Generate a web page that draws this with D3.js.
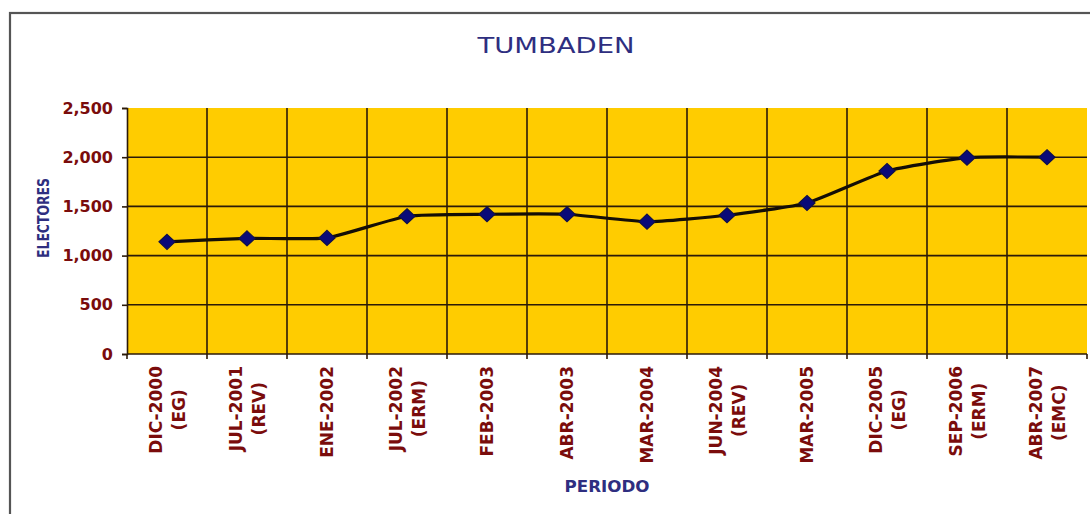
<!DOCTYPE html>
<html>
<head>
<meta charset="utf-8">
<script src="https://cdn.jsdelivr.net/npm/d3@7"></script>
<style>
  html, body { margin: 0; padding: 0; background: #ffffff; }
  svg { display: block; }
</style>
</head>
<body>
<script>
// ---- data ----
const periods = ["DIC-2000","JUL-2001","ENE-2002","JUL-2002","FEB-2003","ABR-2003","MAR-2004","JUN-2004","MAR-2005","DIC-2005","SEP-2006","ABR-2007"];
const processTags = ["(EG)","(REV)","","(ERM)","","","","(REV)","","(EG)","(ERM)","(EMC)"];
const electores = [1140, 1175, 1180, 1400, 1420, 1420, 1345, 1410, 1535, 1860, 1995, 2000];
const yTicks = [0, 500, 1000, 1500, 2000, 2500];
const chartTitle = "TUMBADEN";
const yTitle = "ELECTORES";
const xTitle = "PERIODO";

// ---- layout ----
const W = 1090, H = 514;
const plot = { left: 127, right: 1087, top: 108, bottom: 354 };
const tickRed = "#7a0c0c";
const navy = "#2e2e80";

const svg = d3.select("body").append("svg").attr("width", W).attr("height", H);

// outer chart frame
svg.append("rect").attr("x", 10).attr("y", 13).attr("width", W + 20).attr("height", H + 20)
  .attr("fill", "#ffffff").attr("stroke", "#555555").attr("stroke-width", 2.2);

const x = d3.scaleBand().domain(periods).range([plot.left, plot.right]).padding(0);
const xEdge = d3.scaleLinear().domain([0, periods.length]).range([plot.left, plot.right]);
const y = d3.scaleLinear().domain([0, 2500]).range([plot.bottom, plot.top]);

// plot background
svg.append("rect").attr("x", plot.left).attr("y", plot.top)
  .attr("width", plot.right - plot.left).attr("height", plot.bottom - plot.top)
  .attr("fill", "#ffcc00");

// horizontal gridlines
svg.append("g").selectAll("line").data(yTicks.filter(d => d > 0 && d < 2500)).join("line")
  .attr("x1", plot.left).attr("x2", plot.right)
  .attr("y1", d => y(d)).attr("y2", d => y(d))
  .attr("stroke", "#2b1a08").attr("stroke-width", 1.6);

// vertical gridlines at category boundaries
svg.append("g").selectAll("line").data(d3.range(1, periods.length)).join("line")
  .attr("x1", d => xEdge(d)).attr("x2", d => xEdge(d))
  .attr("y1", plot.top).attr("y2", plot.bottom)
  .attr("stroke", "#2b1a08").attr("stroke-width", 1.6);

// y axis
const yAxis = svg.append("g").attr("transform", `translate(${plot.left},0)`)
  .call(d3.axisLeft(y).tickValues(yTicks).tickFormat(d3.format(",")).tickSize(5).tickPadding(9));
yAxis.select(".domain").attr("stroke", "#2b1a08").attr("stroke-width", 1.6);
yAxis.selectAll(".tick line").attr("stroke", "#2b1a08").attr("stroke-width", 1.6);
yAxis.selectAll(".tick text")
  .attr("fill", tickRed).attr("font-family", "DejaVu Sans, Verdana, sans-serif")
  .attr("font-weight", "bold").attr("font-size", 16);

// x axis line and ticks
svg.append("line").attr("x1", plot.left).attr("x2", plot.right)
  .attr("y1", plot.bottom).attr("y2", plot.bottom)
  .attr("stroke", "#2b1a08").attr("stroke-width", 1.6);
svg.append("g").selectAll("line").data(d3.range(0, periods.length + 1)).join("line")
  .attr("x1", d => xEdge(d)).attr("x2", d => xEdge(d))
  .attr("y1", plot.bottom).attr("y2", plot.bottom + 5)
  .attr("stroke", "#2b1a08").attr("stroke-width", 1.6);

// x tick labels (rotated, two lines)
const labTop = plot.bottom + 12;
const labs = svg.append("g").attr("font-family", "DejaVu Sans, Verdana, sans-serif")
  .attr("font-weight", "bold").attr("font-size", 17).attr("fill", tickRed);
periods.forEach((p, i) => {
  const cx = x(p) + x.bandwidth() / 2;
  const tag = processTags[i];
  const g = labs.append("g").attr("transform", `translate(${cx},${labTop}) rotate(-90)`);
  const off = tag ? -11.5 : 0;
  const t1 = g.append("text").attr("x", 0).attr("y", off)
    .attr("dy", "0.36em").attr("text-anchor", "end").text(p);
  if (tag) {
    const len = t1.node().getComputedTextLength();
    g.append("text").attr("x", -len / 2).attr("y", 11.5)
      .attr("dy", "0.36em").attr("text-anchor", "middle").text(tag);
  }
});

// line (lightly smoothed)
const line = d3.line()
  .x((d, i) => x(periods[i]) + x.bandwidth() / 2)
  .y(d => y(d))
  .curve(d3.curveCardinal.tension(0.5));
svg.append("path").datum(electores).attr("d", line)
  .attr("fill", "none").attr("stroke", "#140e06").attr("stroke-width", 3.2);

// diamond markers
svg.append("g").selectAll("path").data(electores).join("path")
  .attr("transform", (d, i) => `translate(${x(periods[i]) + x.bandwidth() / 2},${y(d)})`)
  .attr("d", "M0,-7.5L8,0L0,7.5L-8,0Z")
  .attr("fill", "#0a0a78").attr("stroke", "#10104a").attr("stroke-width", 1.2);

// title
svg.append("text").attr("x", 556).attr("y", 53).attr("text-anchor", "middle")
  .attr("font-family", "DejaVu Sans, Verdana, sans-serif").attr("font-size", 22)
  .attr("fill", navy).attr("textLength", 157).attr("lengthAdjust", "spacingAndGlyphs")
  .text(chartTitle);

// y axis title
svg.append("text").attr("transform", "translate(44,218) rotate(-90)")
  .attr("text-anchor", "middle").attr("dy", "0.36em")
  .attr("font-family", "DejaVu Sans, Verdana, sans-serif").attr("font-weight", "bold")
  .attr("font-size", 15).attr("fill", navy)
  .attr("textLength", 80).attr("lengthAdjust", "spacingAndGlyphs").text(yTitle);

// x axis title
svg.append("text").attr("x", (plot.left + plot.right) / 2).attr("y", 492)
  .attr("text-anchor", "middle")
  .attr("font-family", "DejaVu Sans, Verdana, sans-serif").attr("font-weight", "bold")
  .attr("font-size", 15).attr("fill", navy)
  .attr("textLength", 85).attr("lengthAdjust", "spacingAndGlyphs").text(xTitle);
</script>
</body>
</html>
